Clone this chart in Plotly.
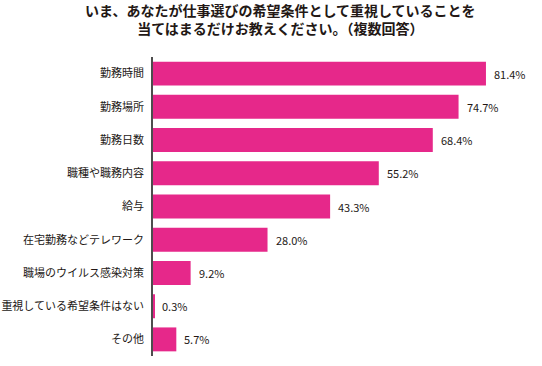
import plotly.graph_objects as go

categories = ["勤務時間", "勤務場所", "勤務日数", "職種や職務内容", "給与",
              "在宅勤務などテレワーク", "職場のウイルス感染対策",
              "重視している希望条件はない", "その他"]
values = [81.4, 74.7, 68.4, 55.2, 43.3, 28.0, 9.2, 0.3, 5.7]
title_lines = ["いま、あなたが仕事選びの希望条件として重視していることを",
               "当てはまるだけお教えください。（複数回答）"]

FONT = "Noto Sans CJK JP"
TXT = "#231815"
W, H = 542, 366
L, T, B, R = 153, 57, 10, 0
plot_w = W - L - R
plot_h = H - T - B

fig = go.Figure(go.Bar(
    y=categories, x=values, orientation="h",
    marker=dict(color="#E6288A", line=dict(width=0)),
    width=0.72,
    cliponaxis=False,
    hoverinfo="skip",
))
annots = []
for c, v in zip(categories, values):
    annots.append(dict(x=v, y=c, xref="x", yref="y", text=f"{v:.1f}%", showarrow=False,
                       xanchor="left", xshift=6, font=dict(size=11, family=FONT, color=TXT)))
title_x = (280 - L) / plot_w
annots.append(dict(text="<b>" + "<br>".join(title_lines) + "</b>", x=title_x, xref="paper",
                   xanchor="center", y=(H - B - 19.5) / plot_h, yref="paper", yanchor="middle",
                   showarrow=False, align="center",
                   font=dict(size=14, family=FONT, color=TXT)))
fig.update_layout(
    width=W, height=H,
    margin=dict(l=L, r=R, t=T, b=B, autoexpand=False),
    paper_bgcolor="white", plot_bgcolor="white",
    font=dict(family=FONT, color=TXT),
    showlegend=False,
    annotations=annots,
)
fig.update_xaxes(range=[0, 95.1], visible=False)
fig.update_yaxes(autorange="reversed", showline=True, linecolor="#4d4d4d", linewidth=1.5,
                 ticks="", ticklabelstandoff=5, automargin=False,
                 tickfont=dict(size=11, family=FONT, color=TXT), showgrid=False)
fig.write_html("out.html", config={"displayModeBar": False},
               post_script="document.body.style.margin='0';")
